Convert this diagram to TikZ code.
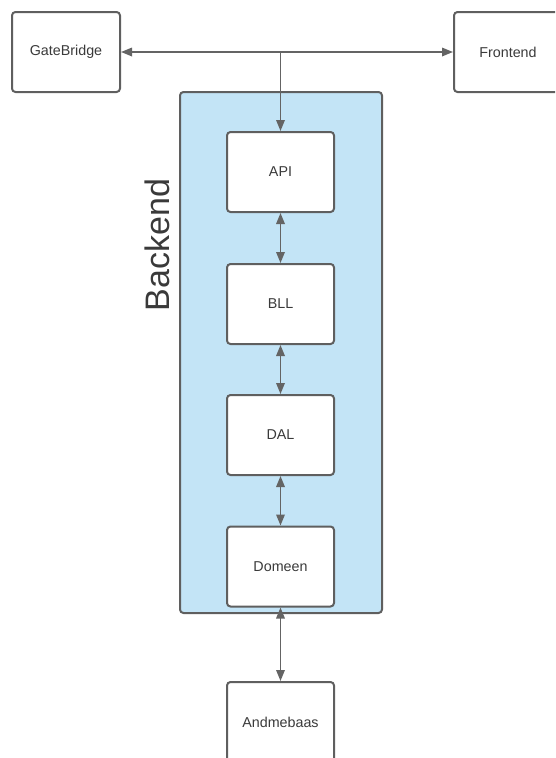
\documentclass[tikz,border=0pt]{standalone}
\usepackage{fontspec}
\setmainfont{Liberation Sans}
\usetikzlibrary{arrows.meta}

\definecolor{edgegray}{HTML}{5F5F5F}
\definecolor{linkgray}{HTML}{646464}
\definecolor{textgray}{HTML}{3A3A3A}
\definecolor{layerblue}{HTML}{C3E4F6}

\begin{document}
\begin{tikzpicture}[x=1pt,y=-1pt,
  block/.style={draw=edgegray, line width=2pt, fill=white, rounded corners=3.5pt,
    minimum width=107pt, minimum height=80pt, inner sep=0pt,
    font=\fontsize{14.3}{16}\selectfont, text=textgray},
  link/.style={draw=linkgray, line width=1.7pt,
    -{Triangle[length=11pt,width=8.5pt]}},
  twoway/.style={link, {Triangle[length=11pt,width=8.5pt]}-{Triangle[length=11pt,width=8.5pt]}}]

\useasboundingbox (0,0) rectangle (555,758);
\clip (0,0) rectangle (555,758);

% backend container
\node[draw=edgegray, line width=2pt, fill=layerblue, rounded corners=3.5pt,
  minimum width=202pt, minimum height=521pt, inner sep=0pt] (backend) at (281,352.5) {};
\node[rotate=90, font=\fontsize{34}{38}\selectfont, text=textgray] (backendlabel) at (157,245) {Backend};

% outer boxes
\node[block, minimum width=108pt] (gate) at (66,52) {GateBridge};
\node[block, minimum width=108pt] (front) at (508,52) {Frontend};

% layers
\node[block] (api) at (280.5,172) {API};
\node[block] (bll) at (280.5,304) {BLL};
\node[block] (dal) at (280.5,435) {DAL};
\node[block] (dom) at (280.5,566.5) {Domeen};
\node[block] (db) at (280.5,722) {Andmebaas};

% top junction
\coordinate (junction) at (280.5,52);
\draw[link] (junction) -- (gate.east);
\draw[link] (junction) -- (front.west);
\draw[link] (junction) -- (api.north);

% links between layers
\draw[twoway] (api.south) -- (bll.north);
\draw[twoway] (bll.south) -- (dal.north);
\draw[twoway] (dal.south) -- (dom.north);
\draw[twoway] (dom.south) -- (db.north);
\end{tikzpicture}
\end{document}
